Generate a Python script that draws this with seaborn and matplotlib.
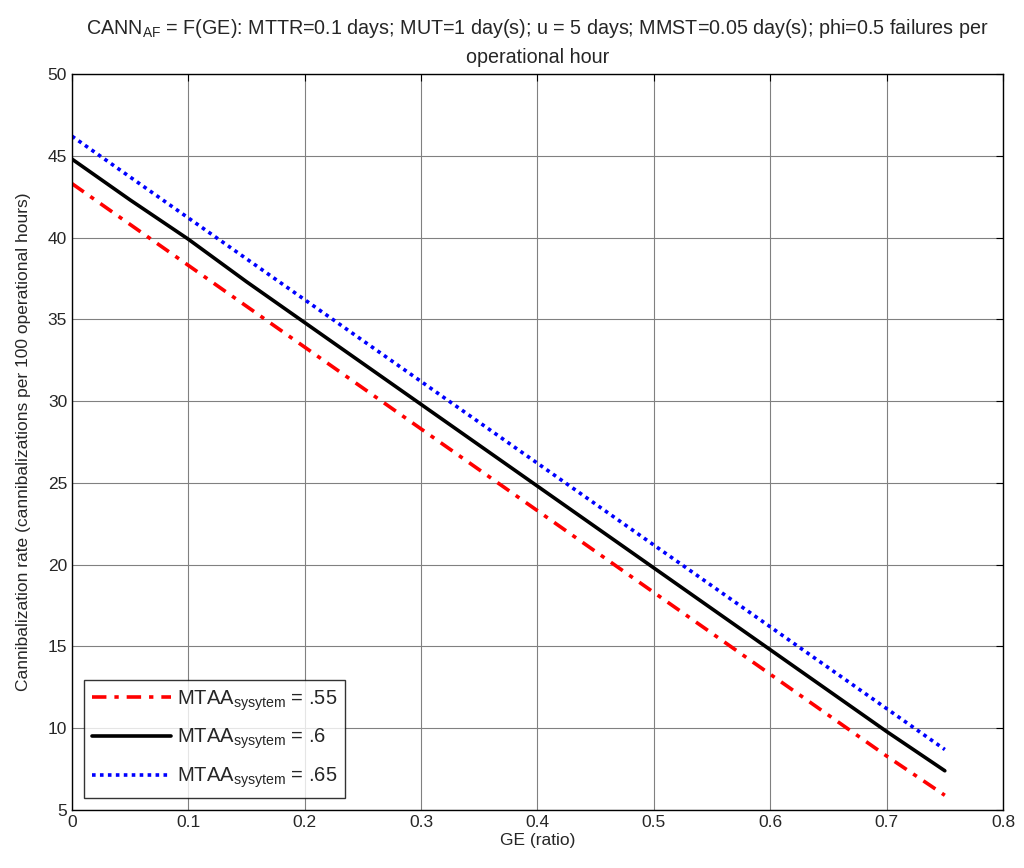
import numpy as np
import pandas as pd
import matplotlib
matplotlib.use("Agg")
import matplotlib.pyplot as plt
import seaborn as sns

ge = [0.0, 0.05, 0.1, 0.15, 0.2, 0.25, 0.3, 0.35, 0.4, 0.45, 0.5, 0.55, 0.6, 0.65, 0.7, 0.75]
cann_055 = [43.3, 40.8, 38.3, 35.8, 33.3, 30.8, 28.3, 25.8, 23.3, 20.8, 18.3, 15.8, 13.3, 10.8, 8.3, 5.9]
cann_060 = [44.8, 42.3, 39.9, 37.3, 34.8, 32.3, 29.8, 27.3, 24.8, 22.3, 19.8, 17.3, 14.8, 12.3, 9.8, 7.4]
cann_065 = [46.2, 43.7, 41.2, 38.7, 36.2, 33.7, 31.2, 28.7, 26.2, 23.7, 21.2, 18.7, 16.2, 13.7, 11.2, 8.7]
series_labels = [r"MTAA$_{\mathrm{sysytem}}$ = .55", r"MTAA$_{\mathrm{sysytem}}$ = .6", r"MTAA$_{\mathrm{sysytem}}$ = .65"]
x_ticks = [0, 0.1, 0.2, 0.3, 0.4, 0.5, 0.6, 0.7, 0.8]
x_tick_labels = ["0", "0.1", "0.2", "0.3", "0.4", "0.5", "0.6", "0.7", "0.8"]
y_ticks = [5, 10, 15, 20, 25, 30, 35, 40, 45, 50]

sns.set_style("white")
plt.rcParams["font.family"] = ["Liberation Sans", "DejaVu Sans"]
plt.rcParams["mathtext.fontset"] = "custom"
plt.rcParams["mathtext.rm"] = "Liberation Sans"
plt.rcParams["mathtext.it"] = "Liberation Sans"

df = pd.DataFrame({
    "GE": ge * 3,
    "CANN": cann_055 + cann_060 + cann_065,
    "series": [series_labels[0]] * len(ge) + [series_labels[1]] * len(ge) + [series_labels[2]] * len(ge),
})

fig = plt.figure(figsize=(10.24, 8.68), dpi=100)
ax = fig.add_axes([0.0703, 0.0668, 0.9092, 0.8479])

palette = {series_labels[0]: "#ff0000", series_labels[1]: "#000000", series_labels[2]: "#0000ff"}
sns.lineplot(data=df, x="GE", y="CANN", hue="series", palette=palette, ax=ax,
             linewidth=2.6, legend=False, sort=False)
styles = [(0, (4.0, 2.2, 1.2, 2.2)), "-", (0, (1.0, 1.2))]
for line, st in zip(ax.get_lines(), styles):
    line.set_linestyle(st)

ax.set_xlim(0, 0.8)
ax.set_ylim(5, 50)
ax.set_xticks(x_ticks)
ax.set_xticklabels(x_tick_labels)
ax.set_yticks(y_ticks)
ax.grid(True, color="#808080", linewidth=0.8)
ax.tick_params(direction="in", top=True, right=True, length=5, labelsize=12.5, color="black")
for s in ax.spines.values():
    s.set_color("black")
    s.set_linewidth(1.0)

ax.set_xlabel("GE (ratio)", fontsize=12.5, labelpad=2)
ax.set_ylabel("Cannibalization rate (cannibalizations per 100 operational hours)", fontsize=12.5, labelpad=12)
ax.set_title("CANN$_{\\mathrm{AF}}$ = F(GE): MTTR=0.1 days; MUT=1 day(s); u = 5 days; MMST=0.05 day(s); phi=0.5 failures per\noperational hour",
             fontsize=14.2, linespacing=1.5, pad=8)

handles = ax.get_lines()
leg = ax.legend(handles, series_labels, loc="lower left", bbox_to_anchor=(0.0, 0.0),
                fontsize=14.5, handlelength=3.9, frameon=True, fancybox=False,
                edgecolor="black", borderpad=0.4, labelspacing=0.7, handletextpad=0.3,
                borderaxespad=0.6)
leg.get_frame().set_linewidth(1.0)

fig.savefig("out.png", dpi=100)
